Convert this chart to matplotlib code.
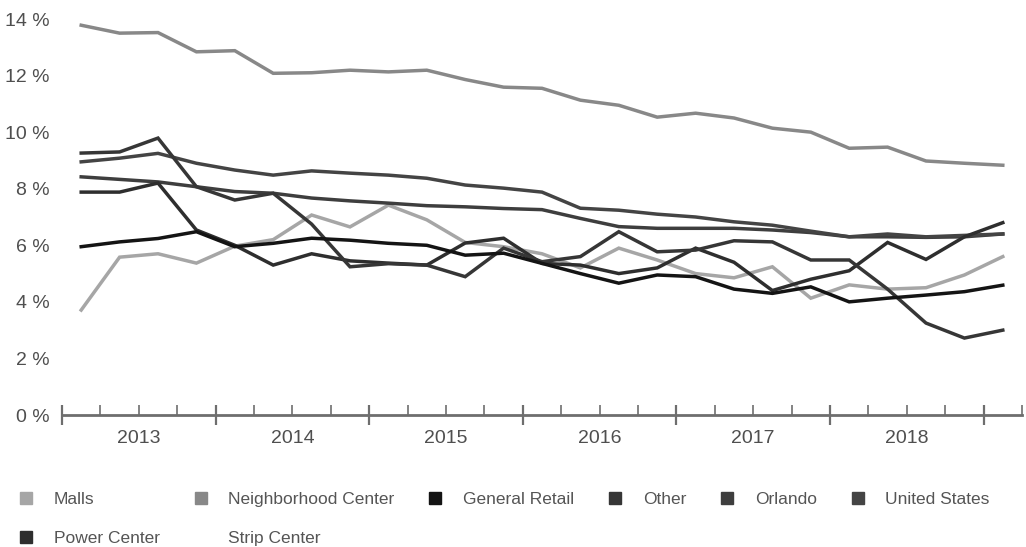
import matplotlib
matplotlib.use("Agg")
import matplotlib.pyplot as plt
from matplotlib.lines import Line2D
from matplotlib.ticker import FixedLocator, NullFormatter, FuncFormatter

plt.rcParams['font.family'] = ['Liberation Sans', 'DejaVu Sans']

# Quarterly periods, 2013 Q1 .. 2019 Q1
years = [2013, 2013, 2013, 2013, 2014, 2014, 2014, 2014, 2015, 2015, 2015, 2015,
         2016, 2016, 2016, 2016, 2017, 2017, 2017, 2017, 2018, 2018, 2018, 2018, 2019]
quarters = [1, 2, 3, 4] * 6 + [1]

# Vacancy rate (%) by retail type
neighborhood_center = [13.78, 13.50, 13.52, 12.84, 12.88, 12.08, 12.10, 12.19, 12.13, 12.19,
                       11.86, 11.59, 11.55, 11.13, 10.95, 10.53, 10.67, 10.50, 10.14, 10.00,
                       9.43, 9.47, 8.98, 8.90, 8.83]
united_states = [8.95, 9.08, 9.25, 8.90, 8.66, 8.48, 8.63, 8.55, 8.48, 8.37,
                 8.13, 8.02, 7.88, 7.31, 7.24, 7.10, 7.00, 6.83, 6.71, 6.50,
                 6.30, 6.40, 6.30, 6.35, 6.40]
orlando = [8.42, 8.33, 8.24, 8.07, 7.90, 7.84, 7.67, 7.57, 7.49, 7.40,
           7.36, 7.30, 7.26, 6.95, 6.66, 6.60, 6.60, 6.60, 6.54, 6.45,
           6.30, 6.30, 6.28, 6.30, 6.40]
other = [9.26, 9.30, 9.79, 8.07, 7.60, 7.84, 6.75, 5.24, 5.35, 5.30,
         4.89, 5.90, 5.42, 5.60, 6.48, 5.77, 5.83, 6.16, 6.12, 5.48,
         5.48, 4.45, 3.25, 2.72, 3.00]
power_center = [7.88, 7.88, 8.20, 6.54, 6.00, 5.30, 5.70, 5.45, 5.37, 5.30,
                6.08, 6.25, 5.36, 5.30, 5.00, 5.20, 5.90, 5.40, 4.40, 4.80,
                5.10, 6.10, 5.50, 6.30, 6.80]
general_retail = [5.95, 6.12, 6.24, 6.48, 5.95, 6.07, 6.25, 6.18, 6.07, 6.00,
                  5.65, 5.72, 5.36, 5.00, 4.66, 4.95, 4.89, 4.45, 4.30, 4.53,
                  4.00, 4.13, 4.24, 4.36, 4.59]
malls = [3.71, 5.58, 5.70, 5.37, 5.97, 6.20, 7.07, 6.65, 7.42, 6.90,
         6.10, 5.95, 5.70, 5.20, 5.90, 5.48, 5.00, 4.85, 5.24, 4.13,
         4.60, 4.45, 4.50, 4.95, 5.60]

y_ticks = [0, 2, 4, 6, 8, 10, 12, 14]
y_tick_labels = ["0 %", "2 %", "4 %", "6 %", "8 %", "10 %", "12 %", "14 %"]
year_labels = ["2013", "2014", "2015", "2016", "2017", "2018"]

# series: (label, values, colour)
series = [
    ("Malls", malls, "#a6a6a6"),
    ("Neighborhood Center", neighborhood_center, "#888888"),
    ("General Retail", general_retail, "#141414"),
    ("Other", other, "#363636"),
    ("Orlando", orlando, "#3e3e3e"),
    ("United States", united_states, "#444444"),
    ("Power Center", power_center, "#2e2e2e"),
]
strip_center_colour = "#ffffff"

# mid-quarter positions on a fractional-year axis
x = [y + (q - 1) / 4 + 0.125 for y, q in zip(years, quarters)]

fig = plt.figure(figsize=(10.26, 5.47), dpi=100)
ax = fig.add_axes([62 / 1026, 132 / 547, 960 / 1026, 396 / 547])

draw_order = ["Neighborhood Center", "Malls", "Orlando", "United States",
              "Power Center", "Other", "General Retail"]
lookup = {s[0]: s for s in series}
for name in draw_order:
    label, vals, col = lookup[name]
    ax.plot(x, vals, color=col, lw=2.5, solid_joinstyle="miter", zorder=3)

ax.set_xlim(2013, 2019.25)
ax.set_ylim(0, 14)

for side in ("left", "top", "right"):
    ax.spines[side].set_visible(False)
ax.spines["bottom"].set_color("#6e6e6e")
ax.spines["bottom"].set_linewidth(2)

text_colour = "#4f4f4f"
ax.set_yticks(y_ticks)
ax.set_yticklabels(y_tick_labels)
ax.tick_params(axis="y", length=0, pad=9, labelsize=14, labelcolor=text_colour)

major_x = list(range(2013, 2020))
minor_x = [yr + f for yr in range(2013, 2020) for f in (0.25, 0.5, 0.75)]
minor_x = [v for v in minor_x if v <= 2019.25]
ax.xaxis.set_major_locator(FixedLocator(major_x))
ax.xaxis.set_major_formatter(NullFormatter())
ax.xaxis.set_minor_locator(FixedLocator(minor_x))
label_map = {yr + 0.5: lab for yr, lab in zip(range(2013, 2019), year_labels)}
ax.xaxis.set_minor_formatter(FuncFormatter(lambda v, p: label_map.get(round(v, 2), "")))
ax.tick_params(axis="x", which="major", direction="inout", length=15, width=1.6,
               color="#6e6e6e")
ax.tick_params(axis="x", which="minor", direction="in", length=7, width=1.2,
               color="#6e6e6e", pad=11, labelsize=14, labelcolor=text_colour)

# legend: column-major fill, so this order gives the two rows
legend_order = ["Malls", "Power Center", "Neighborhood Center", "Strip Center",
                "General Retail", "Other", "Orlando", "United States"]
colours = {s[0]: s[2] for s in series}
colours["Strip Center"] = strip_center_colour
handles = [Line2D([], [], ls="none", marker="s", markersize=9,
                  markerfacecolor=colours[n], markeredgecolor=colours[n]) for n in legend_order]
leg = fig.legend(handles, legend_order, loc="upper left",
                 bbox_to_anchor=(19 / 1026, 1 - 492 / 547),
                 ncol=6, frameon=False, fontsize=12.5, handlelength=0.8, handletextpad=1.2,
                 columnspacing=1.95, labelspacing=1.38, borderaxespad=0, borderpad=0)
for t in leg.get_texts():
    t.set_color("#555555")

fig.savefig("out.png", dpi=100)
